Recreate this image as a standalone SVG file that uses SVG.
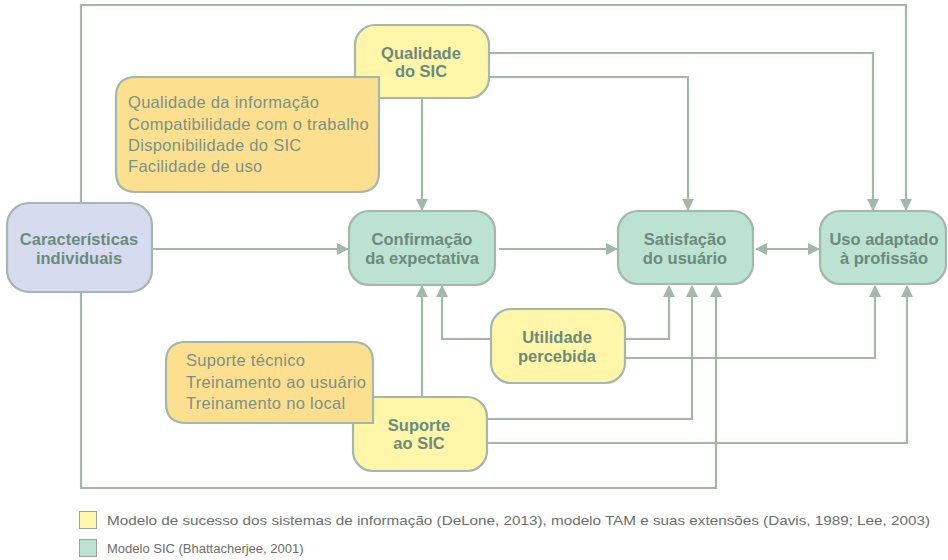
<svg xmlns="http://www.w3.org/2000/svg" width="948" height="560" viewBox="0 0 948 560">
<style>
.bg{fill:#ffffff}
.conn{fill:none;stroke:#a3b7ab;stroke-width:2.2}
.node{stroke:#a3b7ab;stroke-width:2.2}
.yel{fill:#fff6a9}
.grn{fill:#bce2d2}
.lav{fill:#d6dbef}
.org{fill:#fde08f}
.lbl{font-family:"Liberation Sans",Arial,sans-serif;font-weight:bold;font-size:16.5px;fill:#6b8b7c;text-anchor:middle}
.cl{font-family:"Liberation Sans",Arial,sans-serif;font-size:16.5px;letter-spacing:0.3px;fill:#7a9286}
.lg{font-family:"Liberation Sans",Arial,sans-serif;font-size:13px;fill:#6a6f6c}
</style>
<defs>
<marker id="ah" viewBox="0 0 12 12" refX="11" refY="6" markerWidth="12" markerHeight="12" markerUnits="userSpaceOnUse" orient="auto-start-reverse">
<path d="M0,0 L12,6 L0,12 Z" fill="#a3b7ab"/>
</marker>
</defs>
<rect class="bg" x="0" y="0" width="948" height="560"/>
<g id="connectors">
<path class="conn" d="M81,203 V5 H906 V210" marker-end="url(#ah)"/>
<path class="conn" d="M81,292 V488 H716 V286" marker-end="url(#ah)"/>
<path class="conn" d="M153,249 H348" marker-end="url(#ah)"/>
<path class="conn" d="M489,53 H873 V210" marker-end="url(#ah)"/>
<path class="conn" d="M489,77 H688 V210" marker-end="url(#ah)"/>
<path class="conn" d="M422,99 V210" marker-end="url(#ah)"/>
<path class="conn" d="M499,249 H617" marker-end="url(#ah)"/>
<path class="conn" d="M756,249 H819" marker-start="url(#ah)" marker-end="url(#ah)"/>
<path class="conn" d="M491,339 H442 V286" marker-end="url(#ah)"/>
<path class="conn" d="M625,339 H669 V286" marker-end="url(#ah)"/>
<path class="conn" d="M625,358 H875 V286" marker-end="url(#ah)"/>
<path class="conn" d="M422,397 V286" marker-end="url(#ah)"/>
<path class="conn" d="M487,419 H692 V286" marker-end="url(#ah)"/>
<path class="conn" d="M487,443 H907 V286" marker-end="url(#ah)"/>
</g>
<g id="caracteristicas">
<rect class="node lav" x="7" y="203" width="145" height="89" rx="22"/>
<text class="lbl" x="79" y="245">Características</text>
<text class="lbl" x="79" y="264">individuais</text>
</g>
<g id="confirmacao">
<rect class="node grn" x="349" y="211" width="146" height="74" rx="20"/>
<text class="lbl" x="422" y="245">Confirmação</text>
<text class="lbl" x="422" y="264">da expectativa</text>
</g>
<g id="satisfacao">
<rect class="node grn" x="618" y="211" width="135" height="73" rx="20"/>
<text class="lbl" x="685" y="245">Satisfação</text>
<text class="lbl" x="685" y="264">do usuário</text>
</g>
<g id="uso">
<rect class="node grn" x="820" y="211" width="126" height="73" rx="20"/>
<text class="lbl" x="884" y="245">Uso adaptado</text>
<text class="lbl" x="884" y="264">à profissão</text>
</g>
<g id="qualidade">
<rect class="node yel" x="355" y="25" width="134" height="73" rx="20"/>
<text class="lbl" x="421" y="59">Qualidade</text>
<text class="lbl" x="421" y="77">do SIC</text>
</g>
<g id="callout-qualidade">
<path class="node org" d="M136,77 H379 V172 Q379,192 359,192 H136 Q116,192 116,172 V97 Q116,77 136,77 Z"/>
<text class="cl" x="128" y="108">Qualidade da informação</text>
<text class="cl" x="128" y="130">Compatibilidade com o trabalho</text>
<text class="cl" x="128" y="151">Disponibilidade do SIC</text>
<text class="cl" x="128" y="172">Facilidade de uso</text>
</g>
<g id="utilidade">
<rect class="node yel" x="491" y="309" width="134" height="74" rx="20"/>
<text class="lbl" x="557" y="343">Utilidade</text>
<text class="lbl" x="557" y="362">percebida</text>
</g>
<g id="suporte">
<rect class="node yel" x="353" y="397" width="134" height="74" rx="20"/>
<text class="lbl" x="419" y="431">Suporte</text>
<text class="lbl" x="419" y="449">ao SIC</text>
</g>
<g id="callout-suporte">
<path class="node org" d="M186,342 H353 Q373,342 373,362 V423 H186 Q166,423 166,403 V362 Q166,342 186,342 Z"/>
<text class="cl" x="186" y="366">Suporte técnico</text>
<text class="cl" x="186" y="388">Treinamento ao usuário</text>
<text class="cl" x="186" y="409">Treinamento no local</text>
</g>
<g id="legend">
<rect x="79.5" y="511.5" width="17" height="17" fill="#fff6a9" stroke="#9aa39e" stroke-width="1"/>
<text class="lg" x="107" y="525" textLength="823" lengthAdjust="spacingAndGlyphs">Modelo de sucesso dos sistemas de informação (DeLone, 2013), modelo TAM e suas extensões (Davis, 1989; Lee, 2003)</text>
<rect x="79.5" y="539.5" width="17" height="17" fill="#bce2d2" stroke="#9aa39e" stroke-width="1"/>
<text class="lg" x="107" y="553">Modelo SIC (Bhattacherjee, 2001)</text>
</g>
</svg>
